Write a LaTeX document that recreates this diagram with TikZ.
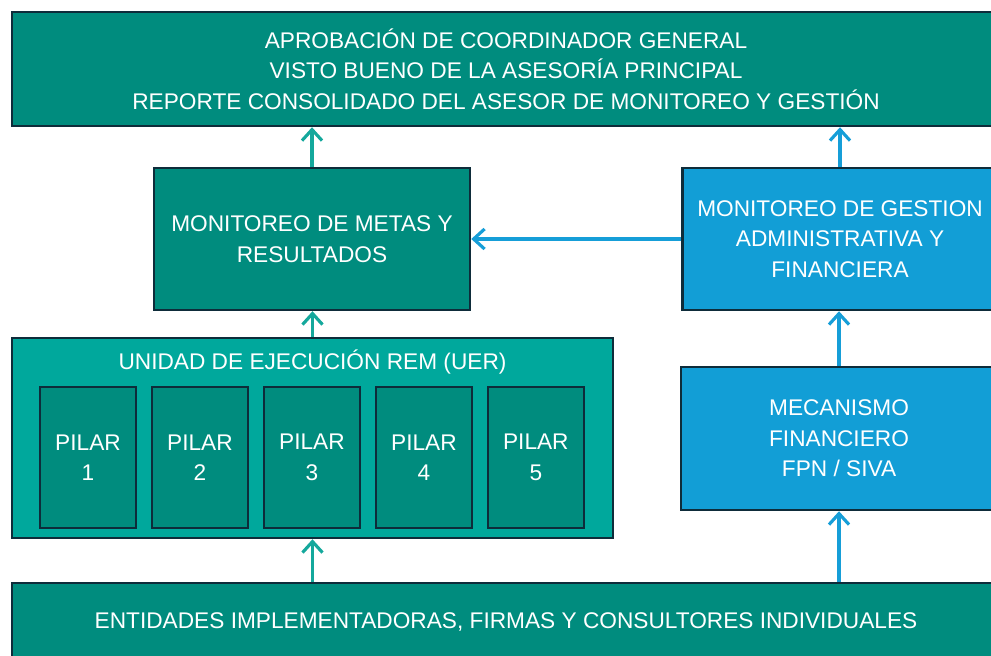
\documentclass[tikz,border=0pt]{standalone}
\usepackage{fontspec}
\setmainfont{Liberation Sans}
\usetikzlibrary{positioning,calc,arrows.meta}

\definecolor{tealbox}{RGB}{0,140,126}
\definecolor{tealuer}{RGB}{0,168,156}
\definecolor{bluebox}{RGB}{18,158,214}
\definecolor{edgedark}{RGB}{14,44,58}
\definecolor{tealarr}{RGB}{20,168,156}
\definecolor{bluearr}{RGB}{22,158,216}

\begin{document}
\begin{tikzpicture}[node distance=0.135cm,
    box/.style={draw=edgedark,line width=0.7pt,text=white,align=center,
      font=\fontsize{6.45}{8.7}\selectfont,inner sep=0pt},
    greenbox/.style={box,fill=tealbox},
    bluebx/.style={box,fill=bluebox},
    pilar/.style={greenbox,minimum width=0.96cm,minimum height=1.41cm},
    up/.style={->,line width=0.9pt,>={Straight Barb[length=1.1mm,width=2mm]}}]
      \path[use as bounding box,clip] (0,0) rectangle (9.91,6.55);

      \node[greenbox,minimum width=9.88cm,minimum height=1.14cm](top) at (5.06,5.86)
        {APROBACIÓN DE COORDINADOR GENERAL\\VISTO BUENO DE LA ASESORÍA PRINCIPAL\\
         REPORTE CONSOLIDADO DEL ASESOR DE MONITOREO Y GESTIÓN};
      \node[greenbox,minimum width=3.16cm,minimum height=1.42cm](metas) at (3.12,4.16)
        {MONITOREO DE METAS Y\\RESULTADOS};
      \node[bluebx,minimum width=3.15cm,minimum height=1.42cm](gestion) at (8.40,4.16)
        {MONITOREO DE GESTION\\ADMINISTRATIVA Y\\FINANCIERA};
      \node[box,fill=tealuer,minimum width=6.01cm,minimum height=2.0cm](uer) at (3.125,2.17){};
      \node[text=white,font=\fontsize{6.45}{8.7}\selectfont,below=0.01cm of uer.north](uert)
        {UNIDAD DE EJECUCIÓN REM (UER)};
      \node[pilar](p1) at (0.88,1.975){PILAR\\1};
      \node[pilar,right=of p1](p2){PILAR\\2};
      \node[pilar,right=of p2](p3){PILAR\\3};
      \node[pilar,right=of p3](p4){PILAR\\4};
      \node[pilar,right=of p4](p5){PILAR\\5};
      \node[bluebx,minimum width=3.16cm,minimum height=1.43cm](mec) at (8.39,2.165)
        {MECANISMO\\FINANCIERO\\FPN / SIVA};
      \node[greenbox,minimum width=9.88cm,minimum height=0.78cm](base) at (5.06,0.33)
        {ENTIDADES IMPLEMENTADORAS, FIRMAS Y CONSULTORES INDIVIDUALES};

      % connectors
      \draw[up,tealarr] (metas.north) -- (metas.north |- top.south);
      \draw[up,tealarr] (uer.north) -- (uer.north |- metas.south);
      \draw[up,tealarr] (uer.south |- base.north) -- (uer.south);
      \draw[up,bluearr] (gestion.north) -- (gestion.north |- top.south);
      \draw[up,bluearr] (gestion.west) -- (metas.east);
      \draw[up,bluearr] (mec.north) -- (mec.north |- gestion.south);
      \draw[up,bluearr] (mec.south |- base.north) -- (mec.south);
    \end{tikzpicture}
\end{document}
